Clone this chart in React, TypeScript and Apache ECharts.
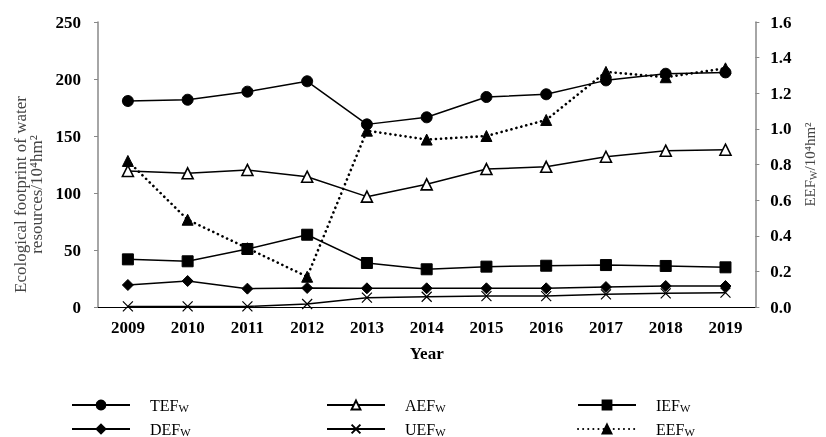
import React, { useEffect, useRef } from "react";
import * as echarts from "echarts";

const years = ["2009", "2010", "2011", "2012", "2013", "2014", "2015", "2016", "2017", "2018", "2019"];
const TEF = [180.7, 181.8, 188.9, 198.0, 160.2, 166.4, 184.2, 186.6, 198.8, 204.6, 205.8];
const AEF = [119.3, 117.3, 120.2, 114.3, 96.8, 107.6, 121.0, 123.0, 131.8, 137.1, 138.0];
const IEF = [41.8, 40.1, 50.9, 63.4, 38.6, 33.1, 35.4, 36.2, 36.8, 36.0, 34.8];
const DEF = [19.3, 22.8, 16.1, 16.7, 16.4, 16.4, 16.4, 16.4, 17.5, 18.4, 18.4];
const UEF = [0.5, 0.5, 0.5, 2.6, 8.2, 9.0, 9.6, 9.6, 11.1, 12.0, 12.6];
const EEF = [0.82, 0.49, 0.33, 0.17, 0.99, 0.94, 0.96, 1.05, 1.32, 1.29, 1.34];

const FONT = "'Liberation Serif', 'Times New Roman', serif";

export default function App() {
  const ref = useRef<HTMLDivElement>(null);
  useEffect(() => {
    if (!ref.current) return;
    const chart = echarts.init(ref.current, null, { renderer: "svg" });
    const black = "#000";
    const legendRich = {
      sp: { width: 15, fontFamily: FONT, lineHeight: 16 },
      main: { fontSize: 16, fontFamily: FONT, color: black, lineHeight: 16 },
      sub: { fontSize: 11, fontFamily: FONT, color: black, lineHeight: 16, padding: [5, 0, 0, 0] },
    };
    const legendCommon = {
      orient: "vertical",
      itemWidth: 58,
      itemHeight: 11,
      itemGap: 8,
      top: 397,
      height: 40,
      padding: 0,
      textStyle: { fontFamily: FONT, fontSize: 16, color: black, lineHeight: 16, rich: legendRich },
      formatter: (n: string) => "{sp|}{main|" + n + "}{sub|W}",
    };
    const lineSeries = (name: string, data: number[], symbol: string, size: number, fill: string, extra: any = {}) => ({
      name,
      type: "line",
      data,
      symbol,
      symbolSize: size,
      showSymbol: true,
      lineStyle: { color: black, width: 1.5 },
      itemStyle: { color: fill, borderColor: black, borderWidth: fill === "#fff" ? 1.6 : 1 },
      ...extra,
    });
    chart.setOption({
      animation: false,
      grid: { left: 98, right: 64, top: 22, bottom: 130, containLabel: false },
      legend: [
        { ...legendCommon, left: 71, data: ["TEF", "DEF"] },
        { ...legendCommon, left: 326, data: ["AEF", "UEF"] },
        { ...legendCommon, left: 577, data: ["IEF", "EEF"] },
      ],
      xAxis: {
        type: "category",
        data: years,
        boundaryGap: true,
        name: "Year",
        nameLocation: "middle",
        nameGap: 38,
        nameTextStyle: { fontFamily: FONT, fontSize: 17, fontWeight: "bold", color: black },
        axisLine: { lineStyle: { color: black, width: 1 } },
        axisTick: { inside: true, length: 4, alignWithLabel: false, lineStyle: { color: black } },
        axisLabel: { fontFamily: FONT, fontSize: 17, fontWeight: "bold", color: black, margin: 12 },
      },
      yAxis: [
        {
          type: "value",
          min: 0,
          max: 250,
          interval: 50,
          name: "Ecological footprint of water\nresources/10⁴hm²",
          nameLocation: "middle",
          nameRotate: 90,
          nameGap: 54,
          nameTextStyle: { fontFamily: FONT, fontSize: 17, lineHeight: 16, color: "#444", padding: [0, 60, 0, 0] },
          splitLine: { show: false },
          axisLine: { show: true, lineStyle: { color: "#888", width: 1.5 } },
          axisTick: { show: true, length: 4, lineStyle: { color: "#888" } },
          axisLabel: { fontFamily: FONT, fontSize: 17, fontWeight: "bold", color: black, margin: 17 },
        },
        {
          type: "value",
          min: 0,
          max: 1.6,
          interval: 0.2,
          position: "right",
          name: "EEF{sub|W}/10⁴hm²",
          nameLocation: "middle",
          nameRotate: 90,
          nameGap: 43,
          nameTextStyle: {
            fontFamily: FONT,
            fontSize: 15,
            color: "#444",
            rich: { sub: { fontFamily: FONT, fontSize: 10, color: "#444", padding: [6, 0, 0, 0] } },
          },
          splitLine: { show: false },
          axisLine: { show: true, lineStyle: { color: "#888", width: 1.5 } },
          axisTick: { show: true, length: 4, lineStyle: { color: "#888" } },
          axisLabel: {
            fontFamily: FONT,
            fontSize: 17,
            fontWeight: "bold",
            color: black,
            margin: 15,
            formatter: (v: number) => v.toFixed(1),
          },
        },
      ],
      series: [
        lineSeries("EEF", EEF, "triangle", 11, black, {
          yAxisIndex: 1,
          lineStyle: { color: black, width: 2.6, type: [0.1, 5], cap: "round" },
        }),
        lineSeries("TEF", TEF, "circle", 11, black),
        lineSeries("AEF", AEF, "triangle", 11, "#fff"),
        lineSeries("IEF", IEF, "rect", 11, black),
        lineSeries("DEF", DEF, "diamond", 11, black),
        lineSeries("UEF", UEF, "path://M0,0L10,10M0,10L10,0", 10, black, {
          itemStyle: { color: black, borderColor: black, borderWidth: 1.2 },
        }),
      ],
    });
    return () => chart.dispose();
  }, []);
  return <div ref={ref} style={{ position: "fixed", left: 0, top: 0, width: 826, height: 437 }} />;
}
